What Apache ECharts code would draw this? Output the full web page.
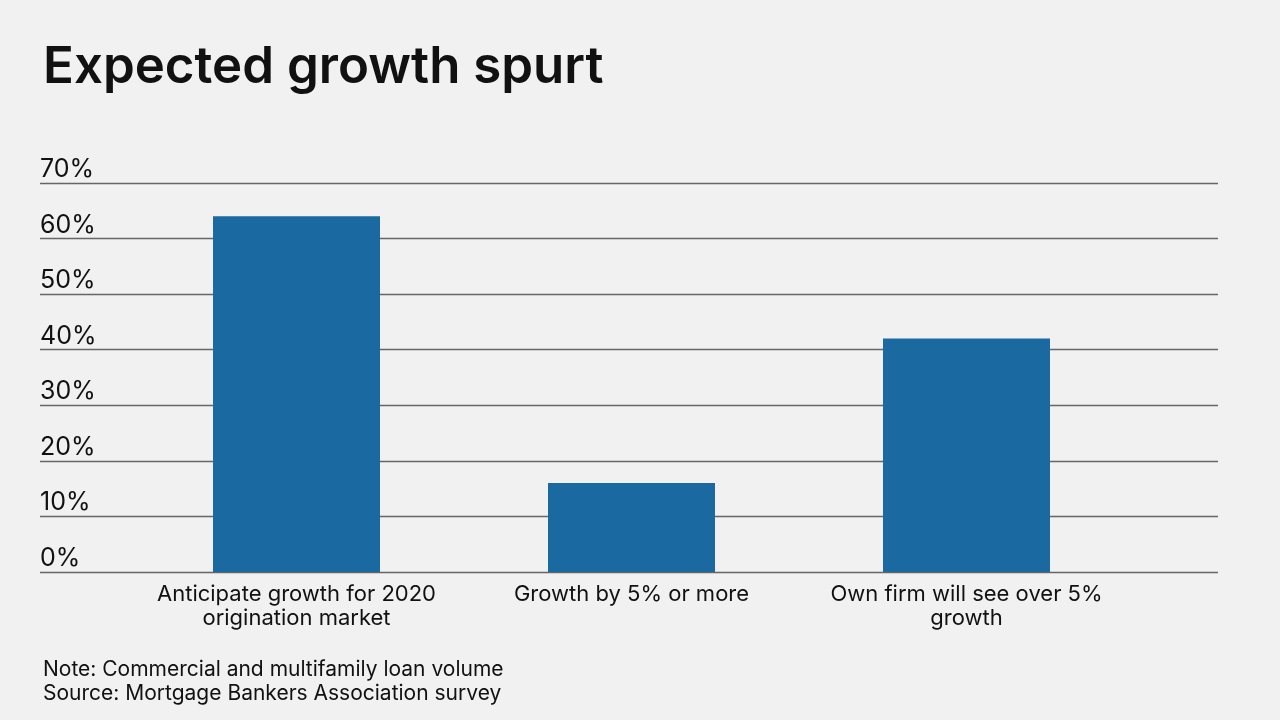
<!DOCTYPE html>
<html><head><meta charset="utf-8">
<script src="https://cdn.jsdelivr.net/npm/echarts@6/dist/echarts.min.js"></script>
<style>html,body{margin:0;padding:0;background:#f0f1f0;}#c{width:1280px;height:720px;}</style>
</head><body><div id="c"></div>
<script>
const categories = ["Anticipate growth for 2020\norigination market", "Growth by 5% or more", "Own firm will see over 5%\ngrowth"];
const values = [64, 16, 42];
const yTicks = [0, 10, 20, 30, 40, 50, 60, 70];
const titleText = "Expected growth spurt";
const noteText = "Note: Commercial and multifamily loan volume\nSource: Mortgage Bankers Association survey";

const FONT = "Inter";
const chart = echarts.init(document.getElementById('c'), null, {renderer: 'canvas'});
chart.setOption({
  backgroundColor: '#f0f1f0',
  animation: false,
  title: [
    {text: titleText, left: 43, top: 42, padding: 0, textStyle: {fontFamily: FONT, fontWeight: 600, fontSize: 51, color: '#111'}},
    {text: noteText, left: 43, top: 658, padding: 0, textStyle: {fontFamily: FONT, fontWeight: 'normal', fontSize: 21, lineHeight: 24, color: '#111'}}
  ],
  grid: [
    {left: 40, right: 62, top: 183, bottom: 148},
    {left: 129, right: 146, top: 183, bottom: 148}
  ],
  xAxis: [
    {gridIndex: 0, type: 'category', data: categories, show: false},
    {gridIndex: 1, type: 'category', data: categories,
     axisLine: {show: false}, axisTick: {show: false},
     axisLabel: {fontFamily: FONT, fontSize: 22, lineHeight: 24, color: '#111', margin: 10, interval: 0}}
  ],
  yAxis: [
    {gridIndex: 0, type: 'value', min: 0, max: 70, interval: 10,
     axisLine: {show: false}, axisTick: {show: false},
     splitLine: {lineStyle: {color: '#666', width: 1.3}},
     axisLabel: {inside: true, margin: 0, verticalAlign: 'bottom', padding: [0, 0, 1, 0], fontFamily: FONT, fontSize: 25, color: '#111',
       formatter: v => v + '%'}},
    {gridIndex: 1, type: 'value', min: 0, max: 70, interval: 10, show: false, splitLine: {show: false}}
  ],
  series: [
    {type: 'bar', xAxisIndex: 1, yAxisIndex: 1, data: values, barWidth: 167,
     itemStyle: {color: '#1a69a0'}, z: 3}
  ]
});
</script></body></html>
